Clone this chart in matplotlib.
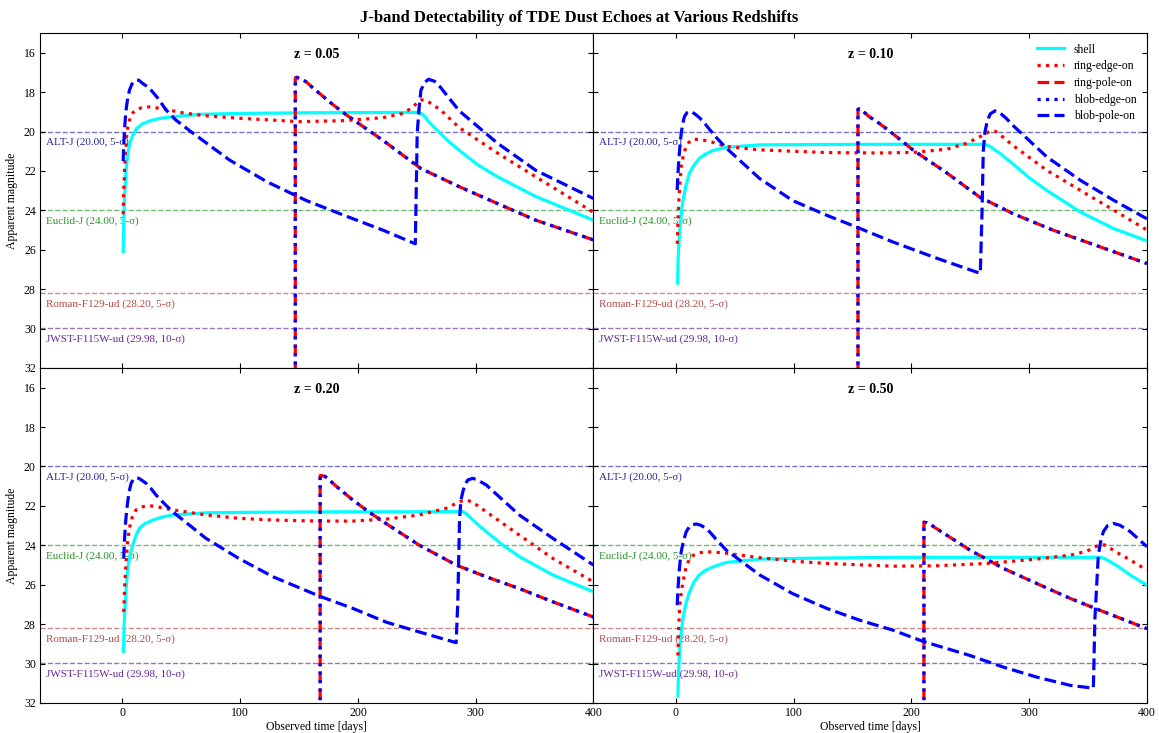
import numpy as np
import matplotlib
matplotlib.use('Agg')
import matplotlib.pyplot as plt

plt.rcParams['font.family'] = ['Liberation Serif', 'DejaVu Serif']

# detection limits
thr_names = ['ALT-J', 'Euclid-J', 'Roman-F129-ud', 'JWST-F115W-ud']
thr_mags = [20.00, 24.00, 28.20, 29.98]
thr_sigma = [5, 5, 5, 10]
thr_colors = ['darkblue', 'green', 'brown', 'indigo']

redshifts = ['0.05', '0.10', '0.20', '0.50']

# ---- z = 0.05 ----
shell_005_t = [0.65, 1.2, 2, 3, 4.5, 6.5, 8.8, 12, 17.3, 24, 31.4, 41, 51, 65, 100, 156, 200, 250, 254, 257, 260, 265, 270, 278, 286, 302, 318.6, 351, 400]
shell_005_m = [26.1, 24.5, 23.2, 22.0, 21.12, 20.55, 20.19, 19.85, 19.6, 19.45, 19.34, 19.26, 19.2, 19.13, 19.08, 19.05, 19.04, 19.03, 19.1, 19.25, 19.5, 19.8, 20.1, 20.55, 20.95, 21.7, 22.3, 23.3, 24.5]
ringedge_005_t = [0.65, 1.0, 1.5, 2.0, 2.5, 3.5, 4.5, 6, 8, 11.6, 16, 22.9, 35, 51, 70, 100, 130, 150, 188, 221, 237, 243, 247, 250, 253.5, 257, 260, 265, 270, 278, 286, 318.6, 351, 400]
ringedge_005_m = [24.2, 23.2, 22.5, 21.7, 21.1, 20.3, 19.8, 19.43, 19.1, 18.9, 18.8, 18.75, 18.85, 19.05, 19.2, 19.33, 19.43, 19.5, 19.45, 19.3, 19.1, 18.9, 18.75, 18.55, 18.4, 18.4, 18.5, 18.7, 18.9, 19.35, 19.8, 21.1, 22.3, 24.1]
ringpole_005_t = [146.8, 146.8, 148, 150, 153, 155.9, 162, 170, 178, 188.4, 221, 253.5, 286, 318.6, 351, 400]
ringpole_005_m = [40, 17.27, 17.25, 17.3, 17.38, 17.47, 17.8, 18.2, 18.6, 19.08, 20.44, 21.88, 22.8, 23.66, 24.5, 25.5]
blobedge_005_t = ringpole_005_t
blobedge_005_m = ringpole_005_m
blobpole_005_t = [0.65, 1.2, 2, 3.1, 4.5, 6, 8, 10, 11.6, 14, 17, 22.9, 30, 37, 45, 58, 91, 123, 156, 188, 221, 248.7, 249.8, 250.3, 252, 253.5, 256.8, 260, 265, 270, 278, 286, 318.6, 351, 400]
blobpole_005_m = [21.5, 20.6, 19.7, 18.9, 18.3, 17.9, 17.6, 17.45, 17.39, 17.4, 17.55, 17.8, 18.3, 18.9, 19.4, 20.0, 21.45, 22.56, 23.5, 24.25, 25.0, 25.7, 22.0, 20.1, 18.75, 17.9, 17.5, 17.35, 17.45, 17.75, 18.35, 18.95, 20.6, 21.97, 23.4]

# ---- z = 0.10 ----
shell_010_t = [1.4, 2, 3, 4.5, 6, 8.5, 11.6, 15.5, 20, 25, 31, 43, 71, 120, 184, 230, 262.4, 266.7, 270, 275, 280, 286, 300, 315, 343.6, 371.5, 400]
shell_010_m = [27.69, 26.3, 25.2, 24.2, 23.5, 22.75, 22.1, 21.7, 21.36, 21.15, 20.97, 20.8, 20.68, 20.66, 20.65, 20.65, 20.65, 20.75, 20.9, 21.1, 21.35, 21.63, 22.35, 22.99, 24.09, 24.92, 25.55]
ringedge_010_t = [1.1, 1.8, 2.5, 3.5, 4.5, 6.5, 8.8, 11, 14, 20, 28.6, 43, 71, 99, 128, 173, 201.6, 230, 246.7, 252, 258, 263, 267, 271, 276, 286, 315, 343.6, 372, 400]
ringedge_010_m = [25.7, 24.5, 23.5, 22.5, 21.8, 21.15, 20.76, 20.55, 20.4, 20.4, 20.5, 20.76, 20.93, 21.0, 21.07, 21.09, 21.06, 20.9, 20.6, 20.45, 20.27, 20.1, 19.98, 19.98, 20.2, 20.7, 21.97, 22.99, 24.0, 25.0]
ringpole_010_t = [154.6, 154.6, 156, 158, 161, 164, 168, 173, 184, 201.6, 230, 258, 286, 320, 360, 400]
ringpole_010_m = [40, 18.87, 18.85, 18.95, 19.08, 19.24, 19.4, 19.6, 20.1, 20.95, 22.1, 23.33, 24.16, 25.0, 25.85, 26.7]
blobedge_010_t = ringpole_010_t
blobedge_010_m = ringpole_010_m
blobpole_010_t = [1.1, 1.8, 2.5, 3.5, 4.5, 5.8, 7.3, 9.3, 11.6, 14, 17, 20, 24, 28.6, 35, 43, 71, 99, 128, 153, 184, 220, 258.5, 260, 261, 262.5, 264.5, 267, 271, 275, 280, 286, 315, 343.6, 372, 400]
blobpole_010_m = [22.97, 22.1, 21.4, 20.7, 20.1, 19.6, 19.24, 19.05, 18.98, 19.02, 19.15, 19.3, 19.55, 19.9, 20.35, 20.85, 22.38, 23.5, 24.25, 24.84, 25.6, 26.4, 27.2, 24.0, 21.0, 20.0, 19.45, 19.1, 18.95, 19.05, 19.3, 19.68, 21.29, 22.48, 23.5, 24.43]

# ---- z = 0.20 ----
shell_020_t = [0.85, 1.5, 2.5, 3.5, 4.5, 6.5, 8.8, 11.5, 14.4, 19, 25.8, 33, 42.7, 71, 120, 184, 240, 289, 292, 294.7, 300, 309, 323, 337.3, 365.6, 400]
shell_020_m = [29.38, 28.0, 26.87, 25.9, 25.17, 24.5, 23.99, 23.5, 23.14, 22.9, 22.72, 22.58, 22.46, 22.35, 22.32, 22.3, 22.3, 22.29, 22.4, 22.55, 22.85, 23.31, 23.99, 24.58, 25.51, 26.36]
ringedge_020_t = [1.1, 2, 3.1, 4.5, 5.9, 8.5, 11.6, 16, 23, 30, 42.7, 71, 99, 128, 167, 195.6, 224, 252.2, 275, 283.4, 288, 292, 296, 302, 309, 337, 365.6, 400]
ringedge_020_m = [27.38, 26.0, 24.84, 23.8, 23.14, 22.55, 22.2, 22.05, 21.99, 22.05, 22.2, 22.46, 22.63, 22.72, 22.77, 22.77, 22.67, 22.46, 22.12, 21.87, 21.75, 21.7, 21.78, 22.0, 22.3, 23.48, 24.67, 25.86]
ringpole_020_t = [167.9, 167.9, 169, 172, 176, 181.5, 195.6, 209.8, 224, 238.1, 252.3, 283.4, 309, 337.3, 365.6, 400]
ringpole_020_m = [40, 20.46, 20.46, 20.5, 20.7, 21.0, 21.7, 22.33, 22.9, 23.45, 24.0, 25.0, 25.6, 26.2, 26.87, 27.64]
blobedge_020_t = ringpole_020_t
blobedge_020_m = ringpole_020_m
blobpole_020_t = [1.1, 1.8, 2.5, 3.5, 4.5, 5.8, 7.4, 9.4, 11.6, 14, 17, 20, 24, 28.6, 35, 42.7, 71, 99, 128, 167.3, 195.6, 224, 252.2, 283.4, 284.8, 286.3, 287.5, 289.1, 291, 293.4, 297.6, 302, 309, 337, 365.6, 400]
blobpole_020_m = [24.67, 23.7, 22.97, 22.3, 21.78, 21.25, 20.85, 20.65, 20.56, 20.6, 20.72, 20.85, 21.1, 21.45, 21.85, 22.3, 23.65, 24.67, 25.6, 26.58, 27.2, 27.9, 28.4, 28.94, 26.87, 22.63, 21.7, 21.27, 20.9, 20.68, 20.6, 20.7, 20.94, 22.46, 23.65, 25.0]

# ---- z = 0.50 ----
shell_050_t = [1.7, 2.3, 3.1, 4.5, 6, 8.5, 11.6, 15.5, 20, 25, 31.4, 42.7, 71, 120, 184, 250, 300, 360.6, 365, 369, 375, 386, 400]
shell_050_m = [31.62, 30.4, 29.4, 28.4, 27.7, 26.95, 26.36, 25.85, 25.5, 25.27, 25.1, 24.87, 24.7, 24.65, 24.61, 24.61, 24.61, 24.61, 24.7, 24.84, 25.05, 25.52, 26.02]
ringedge_050_t = [1.7, 2.3, 3.1, 4.5, 6, 8.5, 11.6, 15, 20, 25.8, 33, 42.7, 71, 99, 128, 184, 221, 264, 306.5, 335, 349, 355, 360.6, 364, 369, 377, 386, 400]
ringedge_050_m = [29.59, 28.3, 27.2, 26.4, 25.86, 25.15, 24.67, 24.5, 24.38, 24.33, 24.35, 24.4, 24.63, 24.8, 24.92, 25.06, 25.04, 24.92, 24.7, 24.5, 24.3, 24.1, 23.96, 23.98, 24.16, 24.45, 24.75, 25.26]
ringpole_050_t = [210.6, 210.6, 213, 217, 221, 249.6, 278, 306.5, 335, 363.6, 400]
ringpole_050_m = [40, 22.83, 22.85, 22.98, 23.14, 24.24, 25.17, 25.94, 26.7, 27.38, 28.23]
blobedge_050_t = ringpole_050_t
blobedge_050_m = ringpole_050_m
blobpole_050_t = [1.1, 1.8, 2.5, 3.5, 4.5, 6.5, 8.8, 11.5, 14, 17.3, 21, 24.5, 28.6, 35, 42.7, 71, 99, 128, 156, 184, 210, 249.6, 278, 306.5, 335, 354.5, 355.8, 358.7, 361, 363, 366.5, 371.5, 377, 385.9, 400]
blobpole_050_m = [27.04, 26.2, 25.5, 24.85, 24.33, 23.75, 23.31, 23.05, 22.95, 22.92, 22.98, 23.1, 23.31, 23.75, 24.24, 25.5, 26.45, 27.2, 27.8, 28.3, 28.88, 29.59, 30.18, 30.69, 31.11, 31.25, 27.72, 24.5, 23.7, 23.31, 23.0, 22.89, 22.98, 23.31, 24.07]

panels = [
    [(shell_005_t, shell_005_m), (ringedge_005_t, ringedge_005_m), (ringpole_005_t, ringpole_005_m),
     (blobedge_005_t, blobedge_005_m), (blobpole_005_t, blobpole_005_m)],
    [(shell_010_t, shell_010_m), (ringedge_010_t, ringedge_010_m), (ringpole_010_t, ringpole_010_m),
     (blobedge_010_t, blobedge_010_m), (blobpole_010_t, blobpole_010_m)],
    [(shell_020_t, shell_020_m), (ringedge_020_t, ringedge_020_m), (ringpole_020_t, ringpole_020_m),
     (blobedge_020_t, blobedge_020_m), (blobpole_020_t, blobpole_020_m)],
    [(shell_050_t, shell_050_m), (ringedge_050_t, ringedge_050_m), (ringpole_050_t, ringpole_050_m),
     (blobedge_050_t, blobedge_050_m), (blobpole_050_t, blobpole_050_m)],
]

labels = ['shell', 'ring-edge-on', 'ring-pole-on', 'blob-edge-on', 'blob-pole-on']
colors = ['cyan', 'red', 'red', 'blue', 'blue']
styles = ['-', ':', '--', ':', '--']

fig, axes = plt.subplots(2, 2, figsize=(11.59, 7.33), sharex=True, sharey=True)
fig.subplots_adjust(left=0.0345, right=0.9896, top=0.955, bottom=0.041, hspace=0, wspace=0)

for i, ax in enumerate(axes.flat):
    for name, mag, sig, c in zip(thr_names, thr_mags, thr_sigma, thr_colors):
        ax.axhline(mag, color=c, ls='--', lw=1.0, alpha=0.55, zorder=1)
        ax.text(-65, mag + 0.55, '%s (%.2f, %d-σ)' % (name, mag, sig), color=c, alpha=0.85,
                fontsize=8, va='center', ha='left', zorder=2)
    for (t, m), lab, c, ls in zip(panels[i], labels, colors, styles):
        ax.plot(t, m, color=c, ls=ls, lw=2.3, label=lab, zorder=3)
    ax.text(0.5, 0.955, 'z = ' + redshifts[i], transform=ax.transAxes, ha='center', va='top',
            fontsize=10, fontweight='bold')
    ax.set_xlim(-70, 400)
    ax.set_ylim(32, 15)
    ax.set_xticks([0, 100, 200, 300, 400])
    ax.set_yticks(np.arange(16, 33, 2))
    ax.tick_params(direction='in', top=True, right=True, labelsize=8.5, pad=3)

axes[0, 1].legend(loc='upper right', frameon=False, fontsize=8.5, handlelength=2.3, labelspacing=0.4)
for ax in axes[:, 0]:
    ax.set_ylabel('Apparent magnitude', fontsize=8.5)
for ax in axes[1, :]:
    ax.set_xlabel('Observed time [days]', fontsize=8.5, labelpad=1)

fig.suptitle('J-band Detectability of TDE Dust Echoes at Various Redshifts', fontsize=12,
             fontweight='bold', y=0.987)

fig.savefig('out.png', dpi=100)
